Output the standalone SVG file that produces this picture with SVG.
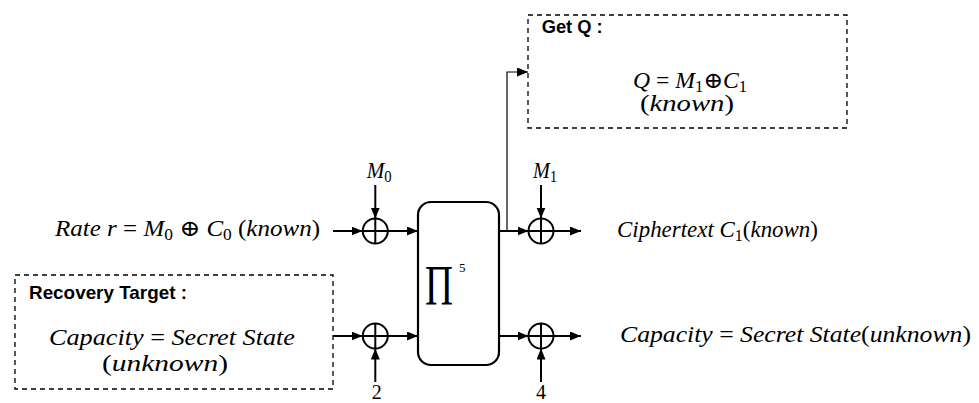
<svg xmlns="http://www.w3.org/2000/svg" width="979" height="403" viewBox="0 0 979 403">
<style>
.bg{fill:#fff}
.ln{stroke:#000;stroke-width:2;fill:none}
.thin{stroke:#000;stroke-width:1.2;fill:none}
.dash{stroke:#000;stroke-width:1.3;fill:none;stroke-dasharray:5 4}
.xor{stroke:#000;stroke-width:2;fill:#fff}
.box{stroke:#000;stroke-width:2.2;fill:#fff}
.m{font-family:"Liberation Serif","DejaVu Serif",serif;font-style:italic;font-size:23px;fill:#000}
.u{font-style:normal}
.sub{font-style:normal;font-size:16px}
.b{font-family:"Liberation Sans",Arial,sans-serif;font-weight:bold;font-size:18.5px;fill:#000}
.n{font-family:"Liberation Serif","DejaVu Serif",serif;font-size:20px;fill:#000}
.pi{font-family:"Liberation Serif","DejaVu Serif",serif;font-size:57px;fill:#000}
.sup{font-family:"Liberation Serif","DejaVu Serif",serif;font-size:13px;fill:#000}
</style>
<defs>
<marker id="ah" markerUnits="userSpaceOnUse" markerWidth="12" markerHeight="10" refX="11" refY="4.5" orient="auto">
<path d="M0,0 L11,4.5 L0,9 Z" fill="#000"/>
</marker>
</defs>
<rect class="bg" x="0" y="0" width="979" height="403"/>

<g id="connectors">
<line class="ln" x1="333" y1="231" x2="362.5" y2="231" marker-end="url(#ah)"/>
<line class="ln" x1="375.3" y1="185" x2="375.3" y2="218.5" marker-end="url(#ah)"/>
<line class="ln" x1="387.8" y1="231" x2="418" y2="231" marker-end="url(#ah)"/>
<line class="ln" x1="333" y1="336" x2="362.5" y2="336" marker-end="url(#ah)"/>
<line class="ln" x1="375.3" y1="382" x2="375.3" y2="348.5" marker-end="url(#ah)"/>
<line class="ln" x1="387.8" y1="336" x2="418" y2="336" marker-end="url(#ah)"/>
<line class="ln" x1="499" y1="231" x2="528.5" y2="231" marker-end="url(#ah)"/>
<line class="ln" x1="499" y1="336" x2="528.5" y2="336" marker-end="url(#ah)"/>
<line class="ln" x1="541" y1="185" x2="541" y2="218.5" marker-end="url(#ah)"/>
<line class="ln" x1="541" y1="382" x2="541" y2="348.5" marker-end="url(#ah)"/>
<line class="ln" x1="553.5" y1="231" x2="581" y2="231" marker-end="url(#ah)"/>
<line class="ln" x1="553.5" y1="336" x2="581" y2="336" marker-end="url(#ah)"/>
<polyline class="thin" points="507,231 507,72 528,72" marker-end="url(#ah)"/>
</g>

<g id="rate-label">
<text class="m" x="55" y="236" textLength="265" lengthAdjust="spacingAndGlyphs">Rate r <tspan class="u">=</tspan> M<tspan class="sub" dy="4">0</tspan><tspan class="u" dy="-4"> ⊕ </tspan>C<tspan class="sub" dy="4">0</tspan><tspan class="u" dy="-4"> (</tspan>known<tspan class="u">)</tspan></text>
</g>

<g id="m0-label">
<text class="m" x="366.7" y="178" textLength="25" lengthAdjust="spacingAndGlyphs">M<tspan class="sub" dy="4">0</tspan></text>
</g>

<g id="m1-label">
<text class="m" x="533" y="178" textLength="24" lengthAdjust="spacingAndGlyphs">M<tspan class="sub" dy="4">1</tspan></text>
</g>

<g id="xor-top-left">
<circle class="xor" cx="375.3" cy="231" r="12.5"/>
<path class="ln" d="M362.8,231 H387.8 M375.3,218.5 V243.5"/>
</g>
<g id="xor-bottom-left">
<circle class="xor" cx="375.3" cy="336" r="12.5"/>
<path class="ln" d="M362.8,336 H387.8 M375.3,323.5 V348.5"/>
</g>
<g id="xor-top-right">
<circle class="xor" cx="541" cy="231" r="12.5"/>
<path class="ln" d="M528.5,231 H553.5 M541,218.5 V243.5"/>
</g>
<g id="xor-bottom-right">
<circle class="xor" cx="541" cy="336" r="12.5"/>
<path class="ln" d="M528.5,336 H553.5 M541,323.5 V348.5"/>
</g>

<g id="const-2">
<text class="n" x="376.7" y="398.5" text-anchor="middle">2</text>
</g>
<g id="const-4">
<text class="n" x="541" y="398.5" text-anchor="middle">4</text>
</g>

<g id="permutation">
<rect class="box" x="418" y="202" width="81" height="163" rx="13" ry="13"/>
<text class="pi" x="425" y="305" textLength="28" lengthAdjust="spacingAndGlyphs">Π</text>
<text class="sup" x="459" y="272">5</text>
</g>

<g id="ciphertext-label">
<text class="m" x="617" y="237" textLength="201" lengthAdjust="spacingAndGlyphs">Ciphertext C<tspan class="sub" dy="4">1</tspan><tspan class="u" dy="-4">(</tspan>known<tspan class="u">)</tspan></text>
</g>

<g id="capacity-out-label">
<text class="m" x="620" y="342" textLength="351" lengthAdjust="spacingAndGlyphs">Capacity <tspan class="u">=</tspan> Secret State<tspan class="u">(</tspan>unknown<tspan class="u">)</tspan></text>
</g>

<g id="get-q">
<rect class="dash" x="528" y="15" width="319" height="113"/>
<text class="b" x="541.7" y="33" textLength="61" lengthAdjust="spacingAndGlyphs">Get Q :</text>
<text class="m" x="633" y="88" textLength="114" lengthAdjust="spacingAndGlyphs">Q <tspan class="u">=</tspan> M<tspan class="sub" dy="4">1</tspan><tspan class="u" dy="-4">⊕</tspan>C<tspan class="sub" dy="4">1</tspan></text>
<text class="m" x="640" y="111" textLength="94" lengthAdjust="spacingAndGlyphs"><tspan class="u">(</tspan>known<tspan class="u">)</tspan></text>
</g>

<g id="recovery-target">
<rect class="dash" x="15" y="275" width="318" height="114"/>
<text class="b" x="29" y="299" textLength="158" lengthAdjust="spacingAndGlyphs">Recovery Target :</text>
<text class="m" x="49" y="345" textLength="246" lengthAdjust="spacingAndGlyphs">Capacity <tspan class="u">=</tspan> Secret State</text>
<text class="m" x="102" y="371" textLength="126" lengthAdjust="spacingAndGlyphs"><tspan class="u">(</tspan>unknown<tspan class="u">)</tspan></text>
</g>
</svg>
